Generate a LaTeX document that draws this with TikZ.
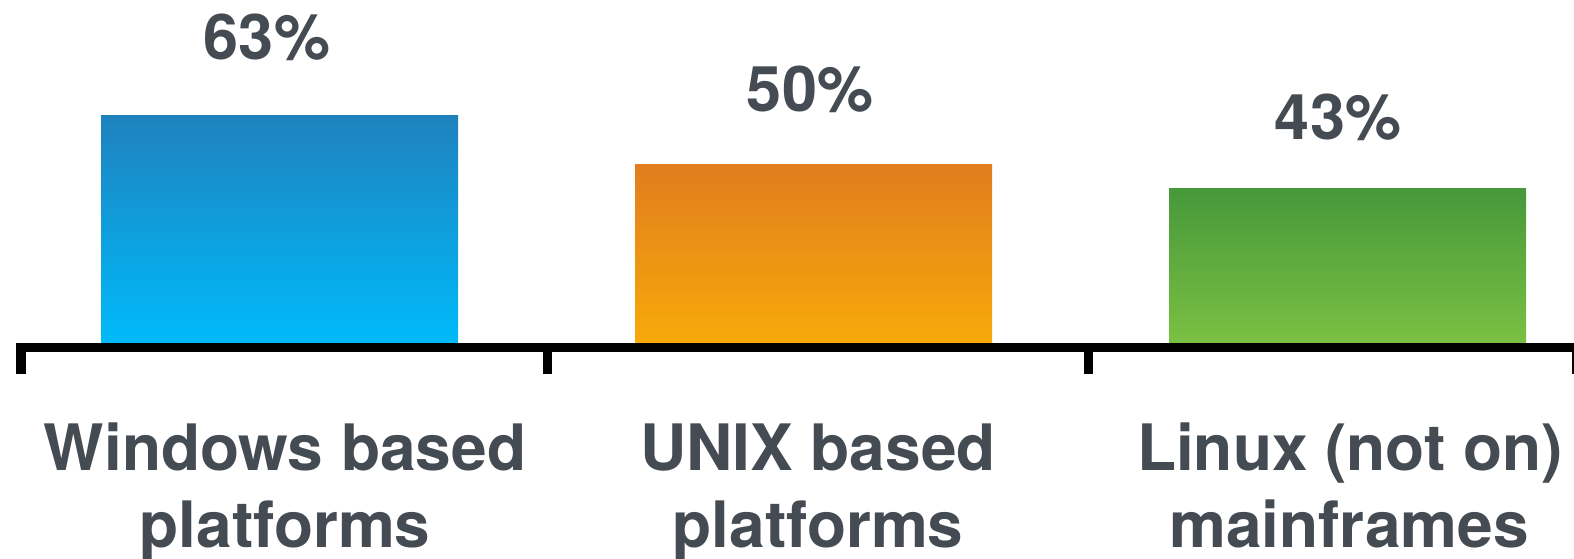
\documentclass[tikz,border=0pt]{standalone}
\usepackage{fontspec}
\setmainfont{TeX Gyre Heros}
\definecolor{txt}{HTML}{454B52}
\definecolor{bluetop}{RGB}{30,130,190}
\definecolor{bluebot}{RGB}{0,186,250}
\definecolor{orangetop}{RGB}{225,125,30}
\definecolor{orangebot}{RGB}{247,170,10}
\definecolor{greentop}{RGB}{70,152,58}
\definecolor{greenbot}{RGB}{122,192,67}
\begin{document}
\begin{tikzpicture}[x=1pt,y=-1pt,
  bar/.style={inner sep=0pt, outer sep=0pt, minimum width=357pt, anchor=south west, draw=none},
  lbl/.style={inner sep=0pt, anchor=base, text=txt, font=\fontsize{64}{76}\selectfont\bfseries},
  pct/.style={inner sep=0pt, anchor=base, text=txt, font=\fontsize{63}{76}\selectfont\bfseries},
  axis/.style={line width=9.5pt, black}]
\useasboundingbox (0,0) rectangle (1574,559);
% bars
\node[bar, minimum height=227pt, top color=bluetop, bottom color=bluebot] (b1) at (101,343) {};
\node[bar, minimum height=179pt, top color=orangetop, bottom color=orangebot] (b2) at (635,343) {};
\node[bar, minimum height=155pt, top color=greentop, bottom color=greenbot] (b3) at (1169,343) {};
% axis
\coordinate (a0) at (16,347.5);
\coordinate (a1) at (1580,347.5);
\coordinate (t1) at (21,374);
\coordinate (t2) at (547.5,374);
\coordinate (t3) at (1088.5,374);
\coordinate (t4) at (1577,374);
\draw[axis] (a0) -- (a1);
\draw[axis] (t1) -- (t1 |- a0);
\draw[axis] (t2) -- (t2 |- a0);
\draw[axis] (t3) -- (t3 |- a0);
\draw[axis] (t4) -- (t4 |- a0);
% percentages
\node[pct] (p1) at (267,60) {63\%};
\node[pct] (p2) at (810,112) {50\%};
\node[pct] (p3) at (1338,140) {43\%};
% category labels
\node[lbl] (c1a) at (285,470) {Windows based};
\node[lbl] (c1b) at (285,547) {platforms};
\node[lbl] (c2a) at (818,470) {UNIX based};
\node[lbl] (c2b) at (818,547) {platforms};
\node[lbl] (c3a) at (1350,470) {Linux (not on)};
\node[lbl] (c3b) at (1349,547) {mainframes};
\end{tikzpicture}
\end{document}
